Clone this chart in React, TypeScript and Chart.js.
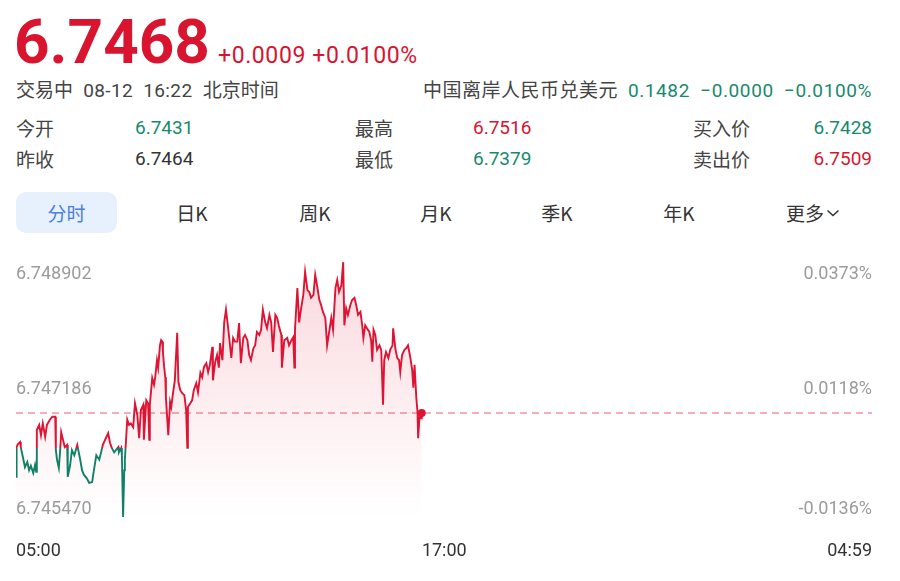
import React, { useEffect, useRef } from "react";
import { Chart, registerables } from "chart.js";

Chart.register(...registerables);

// minutes since 05:00 (trading day runs 05:00 -> 04:59)
const minutes = [0,1,3,7,8,12,15,19,22,25,29,32,34,35,39,42,45,49,52,57,61,66,67,69,72,74,76,79,82,86,87,91,94,98,103,108,111,114,119,123,128,131,135,140,143,146,151,155,158,161,165,168,172,173,177,178,180,182,183,187,190,193,197,200,204,207,210,214,215,219,222,224,225,229,232,234,237,239,242,244,246,247,249,251,252,256,259,261,264,267,271,273,276,279,283,286,288,289,293,296,299,303,306,310,313,316,320,323,326,330,331,335,338,341,343,347,350,353,357,362,365,368,372,375,378,382,385,389,392,395,399,402,405,409,412,415,419,422,426,429,432,436,439,442,446,447,451,456,459,463,466,468,469,473,476,479,483,486,490,493,496,500,503,506,510,513,516,520,523,527,530,533,537,540,543,547,550,552,555,558,562,565,569,572,575,579,582,584,587,590,594,597,599,601,604,607,611,614,617,619,622,626,629,633,634,638,641,644,646,649,653,656,659,663,666,668,670,673,675,676,678,680,681,682];

const prices = [6.74601,6.74641,6.74645,6.74648,6.74641,6.74626,6.74614,6.74621,6.74610,6.74616,6.74606,6.74617,6.74608,6.74664,6.74671,6.74657,6.74673,6.74655,6.74671,6.74678,6.74682,6.74682,6.74637,6.74624,6.74613,6.74634,6.74661,6.74651,6.74641,6.74644,6.74601,6.74617,6.74637,6.74630,6.74644,6.74624,6.74610,6.74604,6.74599,6.74593,6.74594,6.74610,6.74630,6.74624,6.74634,6.74644,6.74653,6.74660,6.74647,6.74640,6.74634,6.74637,6.74641,6.74634,6.74640,6.74630,6.74547,6.74610,6.74624,6.74678,6.74671,6.74673,6.74668,6.74700,6.74684,6.74653,6.74691,6.74698,6.74651,6.74704,6.74700,6.74651,6.74698,6.74734,6.74725,6.74735,6.74758,6.74748,6.74778,6.74785,6.74783,6.74769,6.74749,6.74735,6.74708,6.74657,6.74702,6.74695,6.74714,6.74731,6.74795,6.74729,6.74718,6.74714,6.74711,6.74691,6.74640,6.74695,6.74700,6.74704,6.74718,6.74727,6.74715,6.74741,6.74735,6.74749,6.74754,6.74742,6.74752,6.74776,6.74731,6.74756,6.74765,6.74748,6.74781,6.74758,6.74809,6.74826,6.74799,6.74761,6.74788,6.74783,6.74783,6.74808,6.74754,6.74788,6.74792,6.74785,6.74765,6.74758,6.74774,6.74778,6.74796,6.74792,6.74799,6.74826,6.74809,6.74801,6.74819,6.74809,6.74769,6.74819,6.74815,6.74804,6.74792,6.74748,6.74785,6.74788,6.74778,6.74785,6.74789,6.74748,6.74799,6.74855,6.74809,6.74826,6.74846,6.74877,6.74852,6.74850,6.74842,6.74846,6.74873,6.74859,6.74839,6.74832,6.74823,6.74815,6.74778,6.74799,6.74815,6.74799,6.74855,6.74866,6.74850,6.74859,6.74890,6.74805,6.74828,6.74819,6.74832,6.74839,6.74842,6.74832,6.74819,6.74823,6.74805,6.74788,6.74805,6.74801,6.74796,6.74785,6.74756,6.74799,6.74792,6.74772,6.74778,6.74772,6.74698,6.74758,6.74769,6.74761,6.74772,6.74778,6.74801,6.74772,6.74761,6.74758,6.74742,6.74765,6.74772,6.74774,6.74778,6.74761,6.74745,6.74721,6.74752,6.74707,6.74688,6.74653,6.74678,6.74691,6.74680,6.74687];

const prevClose = 6.7464;
const yTickValues = [6.748902, 6.747186, 6.74547];
const yTickLabels = ["6.748902", "6.747186", "6.745470"];
const pctTickLabels = ["0.0373%", "0.0118%", "-0.0136%"];
const xTickMinutes = [0, 720, 1439];
const xTickLabels = ["05:00", "17:00", "04:59"];
const xMax = 1439;

const RED = "#dd1433";
const GREEN = "#128068";
const TEXT_RED = "#d8142f";
const TEXT_GREEN = "#178a6e";
const NUM_FONT = "Roboto, 'Noto Sans CJK SC', sans-serif";
const CJK_FONT = "'Noto Sans CJK SC', sans-serif";

const labelPlugin = {
  id: "sideLabels",
  afterDraw(chart: any) {
    const { ctx, chartArea, scales } = chart;
    const ys = scales.y;
    const xs = scales.x;
    ctx.save();
    ctx.font = "18px Roboto, sans-serif";
    ctx.fillStyle = "#9b9b9b";
    yTickValues.forEach((v, i) => {
      let y = ys.getPixelForValue(v);
      if (i === 0) {
        ctx.textBaseline = "top";
        y += 3;
      } else if (i === yTickValues.length - 1) {
        ctx.textBaseline = "bottom";
        y += 1;
      } else {
        ctx.textBaseline = "middle";
      }
      ctx.textAlign = "left";
      ctx.fillText(yTickLabels[i], chartArea.left, y);
      ctx.textAlign = "right";
      ctx.fillText(pctTickLabels[i], chartArea.right, y);
    });
    ctx.fillStyle = "#333333";
    ctx.textBaseline = "middle";
    xTickMinutes.forEach((m, i) => {
      const x = xs.getPixelForValue(m);
      ctx.textAlign = i === 0 ? "left" : i === xTickMinutes.length - 1 ? "right" : "center";
      ctx.fillText(xTickLabels[i], x, chartArea.bottom + 34);
    });
    ctx.restore();
  },
};

function PriceChart() {
  const ref = useRef<HTMLCanvasElement | null>(null);
  useEffect(() => {
    if (!ref.current) return;
    const last = prices[prices.length - 1];
    const chart = new Chart(ref.current, {
      type: "line",
      data: {
        datasets: [
          {
            data: minutes.map((m, i) => ({ x: m, y: prices[i] })),
            borderWidth: 1.9,
            tension: 0,
            fill: "start",
            borderColor: (c: any) => {
              const ch = c.chart;
              const a = ch.chartArea;
              if (!a) return RED;
              const yp = ch.scales.y.getPixelForValue(prevClose);
              let t = (yp - a.top) / (a.bottom - a.top);
              t = Math.max(0, Math.min(1, t));
              const g = ch.ctx.createLinearGradient(0, a.top, 0, a.bottom);
              g.addColorStop(0, RED);
              g.addColorStop(t, RED);
              g.addColorStop(t, GREEN);
              g.addColorStop(1, GREEN);
              return g;
            },
            backgroundColor: (c: any) => {
              const ch = c.chart;
              const a = ch.chartArea;
              if (!a) return "rgba(225,30,60,0.08)";
              const g = ch.ctx.createLinearGradient(0, a.top, 0, a.bottom);
              g.addColorStop(0, "rgba(228,40,70,0.18)");
              g.addColorStop(0.6, "rgba(228,40,70,0.07)");
              g.addColorStop(1, "rgba(228,40,70,0.0)");
              return g;
            },
            pointRadius: (c: any) => (c.dataIndex === prices.length - 1 ? 4 : 0),
            pointBackgroundColor: RED,
            pointBorderWidth: 0,
            pointHoverRadius: 0,
          },
          {
            data: [
              { x: 0, y: last },
              { x: xMax, y: last },
            ],
            borderColor: "#f0959d",
            borderWidth: 1.3,
            borderDash: [7, 5],
            pointRadius: 0,
            fill: false,
          },
        ],
      },
      options: {
        animation: false,
        responsive: false,
        events: [],
        layout: { padding: { left: 16, right: 28, top: 22, bottom: 64 } },
        scales: {
          x: { type: "linear", min: 0, max: xMax, display: false },
          y: { type: "linear", min: yTickValues[2], max: yTickValues[0], display: false },
        },
        plugins: { legend: { display: false }, tooltip: { enabled: false } },
      },
      plugins: [labelPlugin],
    } as any);
    return () => chart.destroy();
  }, []);
  return <canvas ref={ref} width={900} height={341} style={{ display: "block", width: 900, height: 341 }} />;
}

const abs = (left: number, top: number, extra: any = {}) => ({
  position: "absolute" as const,
  left,
  top,
  whiteSpace: "nowrap" as const,
  ...extra,
});

const tabs = [
  { label: "日K", center: 192 },
  { label: "周K", center: 315 },
  { label: "月K", center: 436 },
  { label: "季K", center: 557 },
  { label: "年K", center: 679 },
];

export default function App() {
  const row = (top: number) => ({ fontSize: 19, lineHeight: "19px", height: 19, top });
  return (
    <div style={{ position: "fixed", left: 0, top: 0, width: 900, height: 581, background: "#fff", overflow: "hidden", color: "#333" }}>
      <div style={abs(14, 11, { fontFamily: NUM_FONT, fontWeight: 700, fontSize: 62, lineHeight: "62px", color: TEXT_RED })}>6.7468</div>
      <div style={abs(218, 44, { fontFamily: NUM_FONT, fontSize: 23, lineHeight: "23px", color: TEXT_RED, letterSpacing: 0.6 })}>+0.0009 +0.0100%</div>

      <div style={abs(16, 79, { ...row(79), color: "#444" })}>
        <span style={{ fontFamily: CJK_FONT }}>交易中</span>
        <span style={{ fontFamily: NUM_FONT, wordSpacing: 5, letterSpacing: 0.4 }}> 08-12 16:22 </span>
        <span style={{ fontFamily: CJK_FONT }}>北京时间</span>
      </div>
      <div style={{ position: "absolute", right: 28, top: 79, fontSize: 19, lineHeight: "19px", whiteSpace: "nowrap", fontFamily: CJK_FONT }}>
        <span style={{ color: "#444", letterSpacing: 0.5 }}>中国离岸人民币兑美元</span>
        <span style={{ color: TEXT_GREEN, fontFamily: NUM_FONT, marginLeft: 10, wordSpacing: 5, letterSpacing: 0.6 }}>0.1482 −0.0000 −0.0100%</span>
      </div>

      <div style={abs(16, 118, { ...row(118), fontFamily: CJK_FONT, color: "#444" })}>今开</div>
      <div style={abs(135, 118, { ...row(118), fontFamily: NUM_FONT, color: TEXT_GREEN })}>6.7431</div>
      <div style={abs(355, 118, { ...row(118), fontFamily: CJK_FONT, color: "#444" })}>最高</div>
      <div style={abs(473, 118, { ...row(118), fontFamily: NUM_FONT, color: TEXT_RED })}>6.7516</div>
      <div style={abs(693, 118, { ...row(118), fontFamily: CJK_FONT, color: "#444" })}>买入价</div>
      <div style={{ position: "absolute", right: 28, ...row(118), fontFamily: NUM_FONT, color: TEXT_GREEN }}>6.7428</div>

      <div style={abs(16, 149, { ...row(149), fontFamily: CJK_FONT, color: "#444" })}>昨收</div>
      <div style={abs(135, 149, { ...row(149), fontFamily: NUM_FONT, color: "#333" })}>6.7464</div>
      <div style={abs(355, 149, { ...row(149), fontFamily: CJK_FONT, color: "#444" })}>最低</div>
      <div style={abs(473, 149, { ...row(149), fontFamily: NUM_FONT, color: TEXT_GREEN })}>6.7379</div>
      <div style={abs(693, 149, { ...row(149), fontFamily: CJK_FONT, color: "#444" })}>卖出价</div>
      <div style={{ position: "absolute", right: 28, ...row(149), fontFamily: NUM_FONT, color: TEXT_RED }}>6.7509</div>

      <div style={abs(16, 192, { width: 101, height: 41, borderRadius: 10, background: "#e7f1fe", color: "#4a7ee0", fontFamily: CJK_FONT, fontSize: 19, lineHeight: "41px", textAlign: "center" })}>分时</div>
      {tabs.map((t) => (
        <div key={t.label} style={abs(t.center - 50, 203, { width: 100, textAlign: "center", fontFamily: CJK_FONT, fontSize: 19, lineHeight: "20px", color: "#333" })}>
          {t.label}
        </div>
      ))}
      <div style={abs(786, 203, { fontFamily: CJK_FONT, fontSize: 19, lineHeight: "20px", color: "#333", display: "flex", alignItems: "center" })}>
        更多
        <svg width="14" height="10" viewBox="0 0 14 10" style={{ marginLeft: 2 }}>
          <polyline points="1.5,2.5 7,7.5 12.5,2.5" fill="none" stroke="#333" strokeWidth="1.5" />
        </svg>
      </div>

      <div style={{ position: "absolute", left: 0, top: 240 }}>
        <PriceChart />
      </div>
    </div>
  );
}
